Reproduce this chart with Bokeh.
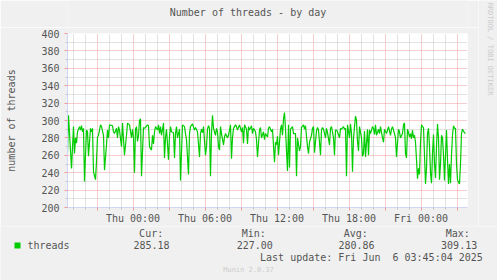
import math
from bokeh.plotting import figure
from bokeh.layouts import column, row
from bokeh.models import FixedTicker, Label, BoxAnnotation, Range1d
from bokeh.embed import file_html
from bokeh.resources import INLINE

FONT = "DejaVu Sans Mono"
TEXT = "#555555"
BACK = "#f0f0f0"

# ---- data -------------------------------------------------------------
# 5-minute samples, window starts Wed 18:32:30 (hours relative to Thu 00:00)
window_start_h = -(5 + 27.5 / 60)
step_h = 5 / 60
n_steps = 400

sample = [
    0, 1, 4, 6, 7, 8, 9, 10, 12, 13, 14, 15, 16, 17, 19, 20, 21, 23, 24, 25, 26, 28, 29, 30, 31,
    33, 34, 36, 37, 39, 40, 41, 42, 45, 46, 47, 49, 50, 51, 52, 54, 55, 57, 59, 60, 62, 64,
    65, 66, 67, 68, 69, 70, 71, 72, 73, 74, 76, 77, 78, 80, 81, 82, 84, 85, 86, 87, 88, 90, 91,
    92, 93, 94, 96, 97, 98, 99, 101, 102, 103, 104, 106, 107, 108, 109, 110, 112, 113, 115, 117,
    118, 119, 121, 122, 123, 125, 127, 128, 130, 132,
    133, 134, 135, 136, 138, 139, 140, 141, 142, 143, 144, 145, 146, 148, 149, 150, 151, 152, 153,
    154, 156, 157, 158, 160, 161, 162, 163, 164, 165, 166, 168, 169, 170, 172, 173, 174, 175, 176,
    177, 179, 180, 181, 182, 184, 185, 186, 188, 189, 190, 192, 193, 194, 196, 197, 198, 200,
    201, 202, 204, 205, 207, 208, 209, 210, 211, 213, 214, 215, 216, 217, 218, 219, 220, 221, 222,
    223, 225, 226, 228, 229, 230, 232, 233, 234, 236, 237, 238, 240, 241, 242, 244, 245, 246, 247,
    249, 250, 251, 253, 254, 255, 256, 258, 259, 260, 262, 263, 264, 266, 267, 268,
    269, 270, 272, 273, 274, 276, 277, 278, 279, 280, 282, 283, 284, 285, 286, 288, 289, 290, 291,
    292, 294, 295, 296, 297, 298, 300, 301, 302, 303, 305, 306, 307, 308, 309, 311, 312, 313, 315,
    316, 317, 319, 320, 321, 323, 324, 325, 327, 328, 329, 331, 332, 333, 335, 336,
    337, 338, 339, 340, 341, 342, 343, 344, 345, 346, 347, 348, 349, 350, 351, 352, 353, 354, 355,
    356, 357, 358, 359, 360, 361, 362, 363, 364, 365, 366, 367, 368, 369, 370, 371, 372, 373, 374,
    375, 376, 377, 378, 379, 380, 381, 382, 383, 384, 385, 386, 387, 388, 389, 390, 391, 392, 393,
    394, 395, 396, 397, 398,
]

threads = [
    262, 306, 245, 293, 262, 280, 274, 287, 293, 289, 294, 287, 291, 230, 289, 287, 259, 291, 287,
    291, 241, 232, 253, 281, 283, 295, 293, 283, 243, 272, 289, 280, 295, 294, 287, 285, 291, 280,
    293, 289, 270, 297, 260, 283, 297, 295, 280,
    290, 280, 240, 290, 293, 276, 283, 300, 302, 236, 292, 291, 292, 295, 294, 270, 266, 283, 273,
    287, 293, 289, 295, 285, 293, 283, 297, 257, 280, 290, 255, 282, 293, 287, 286, 257, 285, 293,
    280, 290, 231, 295, 293, 285, 278, 238, 285, 293, 296, 289, 292, 287, 258,
    285, 290, 286, 293, 260, 270, 290, 294, 291, 236, 285, 306, 291, 283, 291, 287, 270, 266, 293,
    285, 272, 281, 285, 280, 283, 289, 295, 256, 280, 291, 295, 293, 289, 295, 291, 287, 292, 274,
    295, 290, 273, 293, 289, 294, 285, 291, 287, 278, 258, 289, 292, 280, 287, 278, 285, 281,
    291, 293, 287, 290, 252, 275, 272, 282, 260, 290, 295, 283, 302, 309.13, 290, 265, 242, 295, 246,
    290, 293, 285, 285, 236, 280, 265, 270, 292, 295, 290, 294, 270, 262, 275, 283, 291, 293, 263,
    288, 292, 289, 260, 289, 292, 290, 280, 291, 286, 272, 291, 293, 280, 260, 289,
    289, 287, 280, 291, 290, 293, 290, 291, 236, 295, 280, 296, 285, 241, 280, 305, 300, 276, 265,
    293, 280, 259, 262, 288, 258, 290, 260, 289, 285, 293, 291, 284, 295, 283, 290, 285, 293, 280,
    275, 290, 285, 289, 293, 283, 290, 293, 285, 280, 258, 290, 287, 280, 285, 295,
    297, 262, 257, 290, 286, 281, 285, 279, 289, 280, 283, 275, 255, 233, 245, 238, 275, 295, 293,
    292, 260, 227, 245, 285, 291, 270, 240, 228, 262, 284, 250, 234, 270, 296, 280, 232, 250, 283,
    280, 260, 231, 260, 289, 255, 227, 250, 228, 260, 283, 294, 291, 291, 250, 232, 229, 227, 250,
    285, 290, 288, 286, 285.18,
]

x_ticks = [-3, 0, 3, 6, 9, 12, 15, 18, 21, 24, 27]
x_tick_labels = ["", "Thu 00:00", "", "Thu 06:00", "", "Thu 12:00", "", "Thu 18:00", "", "Fri 00:00", ""]
x_minor = [-5, -4, -2, -1, 1, 2, 4, 5, 7, 8, 10, 11, 13, 14, 16, 17, 19, 20, 22, 23, 25, 26]
y_ticks = [200, 220, 240, 260, 280, 300, 320, 340, 360, 380, 400]
y_minor = [210, 230, 250, 270, 290, 310, 330, 350, 370, 390]

title_text = "Number of threads - by day"
y_label = "number of threads"
series_name = "threads"
stats_heads = ["Cur:", "Min:", "Avg:", "Max:"]
stats_values = ["285.18", "227.00", "280.86", "309.13"]
last_update = "Last update: Fri Jun \u00a06 03:45:04 2025"
munin_version = "Munin 2.0.37"
rrd_credit = "RRDTOOL / TOBI OETIKER"

hours = [window_start_h + s * step_h for s in sample]

# ---- main chart ---------------------------------------------------------
MAJ = "#f09a9a"
MIN = "#c4c4c4"
AX = "#cfd6f8"

p = figure(width=478, height=199, output_backend="svg", toolbar_location=None,
           x_range=Range1d(window_start_h, window_start_h + n_steps * step_h),
           y_range=Range1d(200, 400),
           min_border_left=67, min_border_right=11, min_border_top=6, min_border_bottom=18)
p.border_fill_color = BACK
p.background_fill_color = "#ffffff"
p.outline_line_color = None

p.xgrid.ticker = FixedTicker(ticks=x_ticks, minor_ticks=x_minor)
p.ygrid.ticker = FixedTicker(ticks=y_ticks, minor_ticks=y_minor)
for g in (p.xgrid, p.ygrid):
    g.grid_line_color = MAJ
    g.grid_line_dash = "1 1"
    g.minor_grid_line_color = MIN
    g.minor_grid_line_dash = "1 1"

p.xaxis.ticker = FixedTicker(ticks=x_ticks, minor_ticks=x_minor)
p.xaxis.major_label_overrides = {t: l for t, l in zip(x_ticks, x_tick_labels)}
p.yaxis.ticker = FixedTicker(ticks=y_ticks, minor_ticks=y_minor)

for ax in (p.xaxis[0], p.yaxis[0]):
    ax.axis_line_color = AX
    ax.major_tick_line_color = MAJ
    ax.minor_tick_line_color = MIN
    ax.major_tick_in = 0
    ax.minor_tick_in = 0
    ax.major_label_text_font = FONT
    ax.major_label_text_font_size = "10px"
    ax.major_label_text_color = TEXT

p.xaxis.major_tick_out = 3
p.xaxis.minor_tick_out = 2
p.xaxis.major_label_standoff = 2
p.yaxis.major_tick_out = 3
p.yaxis.minor_tick_out = 2
p.yaxis.major_label_standoff = 5

p.yaxis.axis_label = y_label
p.yaxis.axis_label_text_font = FONT
p.yaxis.axis_label_text_font_size = "10px"
p.yaxis.axis_label_text_font_style = "normal"
p.yaxis.axis_label_text_color = TEXT
p.yaxis.axis_label_standoff = 21

p.line(hours, threads, line_color="#00cc00", line_width=1.2)


# ---- helper panels for the texts around the chart ----------------------------
def panel(w, h):
    f = figure(width=w, height=h, output_backend="svg", toolbar_location=None,
               x_range=Range1d(0, w), y_range=Range1d(0, h),
               x_axis_location=None, y_axis_location=None,
               min_border=0, min_border_left=0, min_border_right=0,
               min_border_top=0, min_border_bottom=0)
    f.border_fill_color = BACK
    f.background_fill_color = BACK
    f.outline_line_color = None
    f.grid.visible = False
    return f


def lab(f, x, y, text, align="left", size="10px", color=TEXT, angle=0.0):
    f.add_layout(Label(x=x, y=y, x_units="screen", y_units="screen", text=text,
                       text_font=FONT, text_font_size=size, text_color=color,
                       text_align=align, text_baseline="middle", angle=angle))


# header frame is aligned with the chart frame (left edge at 67 px)
header = panel(478, 27)
lab(header, 180.5, 15, title_text, align="center")

strip = panel(19, 226)
lab(strip, 11, 177.5, rrd_credit, align="center", size="7px", color="#cccccc", angle=-math.pi / 2)

legend = panel(497, 54)
legend.add_layout(BoxAnnotation(left=14, right=20, top=38, bottom=32,
                                left_units="screen", right_units="screen",
                                top_units="screen", bottom_units="screen",
                                fill_color="#00cc00", fill_alpha=1.0, line_color=None))
lab(legend, 27, 35.5, series_name)
head_x = [162.7, 265.3, 367.3, 469.3]
val_x = [169, 272.3, 374, 476.7]
for hx, vx, h, v in zip(head_x, val_x, stats_heads, stats_values):
    lab(legend, hx, 47, h, align="right")
    lab(legend, vx, 35.5, v, align="right")
lab(legend, 482.3, 23, last_update, align="right")
lab(legend, 248, 10.5, munin_version, align="center", size="7px", color="#cccccc")

layout = column(row(column(header, p, spacing=0), strip, spacing=0), legend, spacing=0)

open("out.html", "w").write(file_html(layout, INLINE))
